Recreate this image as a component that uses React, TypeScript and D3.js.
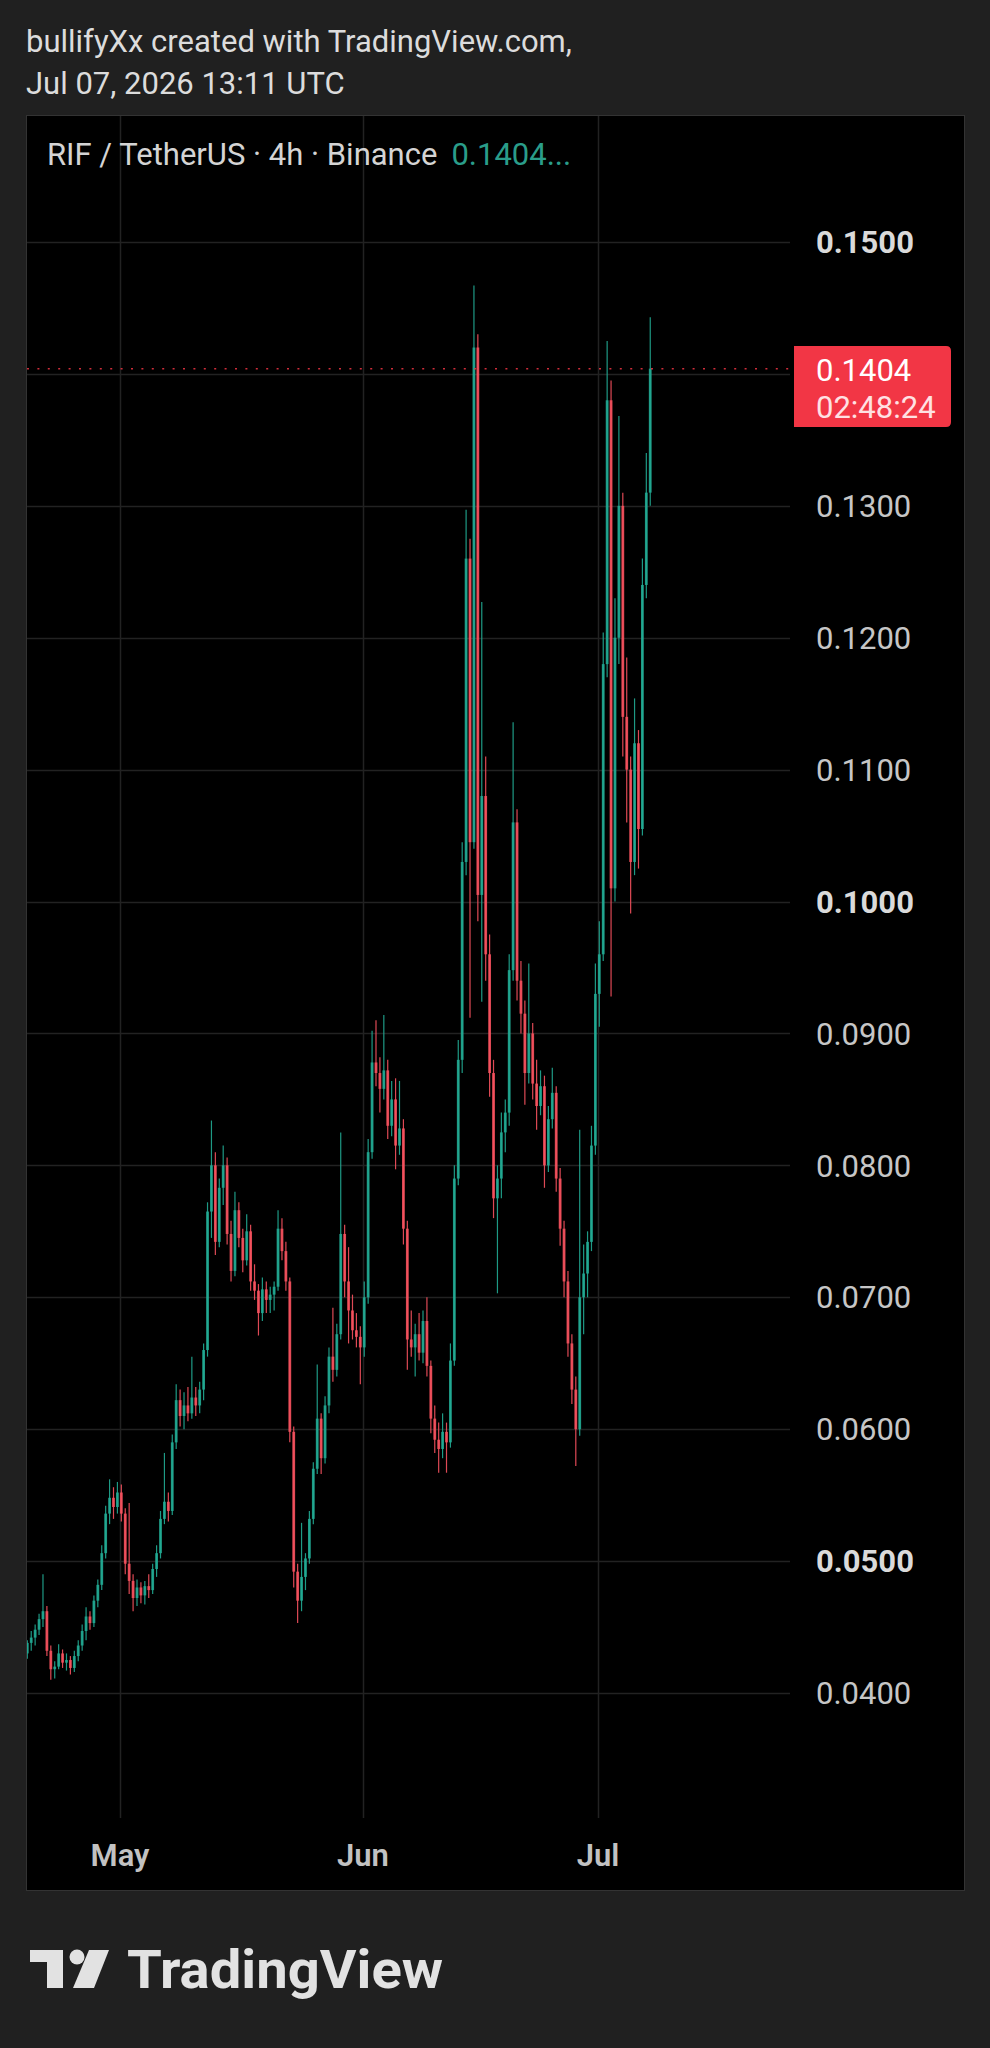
import React from "react";
import * as d3 from "d3";

// ---- data (12h OHLC candles) ----
const startDate = Date.UTC(2026, 3, 19); // Apr 19 2026 00:00 UTC
const aprCandles: number[][] = [
  [0.0430, 0.0440, 0.0426, 0.0438], [0.0438, 0.0447, 0.0432, 0.0442],
  [0.0442, 0.0452, 0.0436, 0.0448], [0.0448, 0.0460, 0.0444, 0.0456],
  [0.0456, 0.0490, 0.0450, 0.0462], [0.0462, 0.0466, 0.0428, 0.0432],
  [0.0432, 0.0436, 0.0410, 0.0418], [0.0418, 0.0424, 0.0411, 0.0420],
  [0.0420, 0.0437, 0.0418, 0.0430], [0.0430, 0.0433, 0.0419, 0.0423],
  [0.0423, 0.0430, 0.0417, 0.0425], [0.0425, 0.0428, 0.0414, 0.0419],
  [0.0419, 0.0432, 0.0416, 0.0428], [0.0428, 0.0440, 0.0424, 0.0436],
  [0.0436, 0.0452, 0.0432, 0.0447], [0.0447, 0.0465, 0.0440, 0.0458],
  [0.0458, 0.0462, 0.0448, 0.0453], [0.0453, 0.0474, 0.0450, 0.0470],
  [0.0470, 0.0486, 0.0465, 0.0482], [0.0482, 0.0512, 0.0478, 0.0506],
  [0.0506, 0.0542, 0.0502, 0.0536], [0.0536, 0.0562, 0.0528, 0.0548],
  [0.0548, 0.0556, 0.0532, 0.0541], [0.0541, 0.0560, 0.0536, 0.0552],
];
const mayCandles: number[][] = [
  [0.0552, 0.0558, 0.0530, 0.0536], [0.0536, 0.0540, 0.0490, 0.0498],
  [0.0498, 0.0544, 0.0475, 0.0485], [0.0485, 0.0490, 0.0462, 0.0472],
  [0.0472, 0.0486, 0.0466, 0.0480], [0.0480, 0.0484, 0.0468, 0.0474],
  [0.0474, 0.0485, 0.0467, 0.0481], [0.0481, 0.0490, 0.0472, 0.0478],
  [0.0478, 0.0498, 0.0475, 0.0494], [0.0494, 0.0512, 0.0488, 0.0506],
  [0.0506, 0.0538, 0.0502, 0.0532], [0.0532, 0.0582, 0.0528, 0.0545],
  [0.0545, 0.0552, 0.0530, 0.0538], [0.0538, 0.0596, 0.0535, 0.0590],
  [0.0590, 0.0634, 0.0585, 0.0622], [0.0622, 0.0630, 0.0602, 0.0610],
  [0.0610, 0.0628, 0.0600, 0.0618], [0.0618, 0.0632, 0.0606, 0.0612],
  [0.0612, 0.0655, 0.0608, 0.0624], [0.0624, 0.0632, 0.0610, 0.0618],
  [0.0618, 0.0636, 0.0612, 0.0630], [0.0630, 0.0665, 0.0622, 0.0660],
  [0.0660, 0.0772, 0.0655, 0.0765], [0.0765, 0.0834, 0.0745, 0.0800],
  [0.0800, 0.0810, 0.0732, 0.0742], [0.0742, 0.0790, 0.0738, 0.0783],
  [0.0783, 0.0815, 0.0770, 0.0800], [0.0800, 0.0806, 0.0740, 0.0748],
  [0.0748, 0.0758, 0.0712, 0.0720], [0.0720, 0.0780, 0.0716, 0.0766],
  [0.0766, 0.0772, 0.0738, 0.0745], [0.0745, 0.0752, 0.0719, 0.0728],
  [0.0728, 0.0763, 0.0724, 0.0750], [0.0750, 0.0755, 0.0705, 0.0712],
  [0.0712, 0.0725, 0.0698, 0.0705], [0.0705, 0.0710, 0.0671, 0.0688],
  [0.0688, 0.0715, 0.0682, 0.0706], [0.0706, 0.0712, 0.0688, 0.0698],
  [0.0698, 0.0708, 0.0688, 0.0702], [0.0702, 0.0712, 0.0690, 0.0708],
  [0.0708, 0.0766, 0.0705, 0.0752], [0.0752, 0.0760, 0.0728, 0.0735],
  [0.0735, 0.0742, 0.0705, 0.0712], [0.0712, 0.0715, 0.0590, 0.0598],
  [0.0598, 0.0602, 0.0480, 0.0492], [0.0492, 0.0498, 0.0453, 0.0470],
  [0.0470, 0.0529, 0.0462, 0.0488], [0.0488, 0.0506, 0.0478, 0.0502],
  [0.0502, 0.0538, 0.0498, 0.0532], [0.0532, 0.0575, 0.0528, 0.0570],
  [0.0570, 0.0649, 0.0566, 0.0608], [0.0608, 0.0612, 0.0566, 0.0578],
  [0.0578, 0.0625, 0.0574, 0.0618], [0.0618, 0.0662, 0.0612, 0.0655],
  [0.0655, 0.0692, 0.0636, 0.0645], [0.0645, 0.0680, 0.0640, 0.0672],
  [0.0672, 0.0825, 0.0668, 0.0748], [0.0748, 0.0755, 0.0700, 0.0712],
  [0.0712, 0.0738, 0.0665, 0.0690], [0.0690, 0.0702, 0.0668, 0.0675],
  [0.0675, 0.0688, 0.0662, 0.0670], [0.0670, 0.0678, 0.0634, 0.0662],
];
const junCandles: number[][] = [
  [0.0662, 0.0712, 0.0655, 0.0700], [0.0700, 0.0820, 0.0695, 0.0810],
  [0.0810, 0.0902, 0.0805, 0.0878], [0.0878, 0.0910, 0.0860, 0.0870],
  [0.0870, 0.0882, 0.0840, 0.0858], [0.0858, 0.0914, 0.0850, 0.0872],
  [0.0872, 0.0880, 0.0820, 0.0830], [0.0830, 0.0864, 0.0822, 0.0850],
  [0.0850, 0.0866, 0.0797, 0.0815], [0.0815, 0.0864, 0.0808, 0.0828],
  [0.0828, 0.0835, 0.0740, 0.0752], [0.0752, 0.0758, 0.0645, 0.0668],
  [0.0668, 0.0690, 0.0655, 0.0662], [0.0662, 0.0680, 0.0640, 0.0672],
  [0.0672, 0.0688, 0.0652, 0.0658], [0.0658, 0.0690, 0.0650, 0.0682],
  [0.0682, 0.0700, 0.0640, 0.0648], [0.0648, 0.0652, 0.0597, 0.0608],
  [0.0608, 0.0618, 0.0582, 0.0592], [0.0592, 0.0605, 0.0567, 0.0585],
  [0.0585, 0.0612, 0.0578, 0.0598], [0.0598, 0.0605, 0.0567, 0.0590],
  [0.0590, 0.0665, 0.0586, 0.0652], [0.0652, 0.0800, 0.0648, 0.0790],
  [0.0790, 0.0895, 0.0785, 0.0880], [0.0880, 0.1045, 0.0870, 0.1030],
  [0.1030, 0.1297, 0.1020, 0.1260], [0.1260, 0.1275, 0.0912, 0.1045],
  [0.1045, 0.1467, 0.1040, 0.1420], [0.1420, 0.1430, 0.0985, 0.1005],
  [0.1005, 0.1227, 0.0924, 0.1080], [0.1080, 0.1110, 0.0940, 0.0960],
  [0.0960, 0.0975, 0.0852, 0.0870], [0.0870, 0.0880, 0.0760, 0.0775],
  [0.0775, 0.0800, 0.0703, 0.0790], [0.0790, 0.0840, 0.0775, 0.0825],
  [0.0825, 0.0850, 0.0810, 0.0840], [0.0840, 0.0960, 0.0830, 0.0948],
  [0.0948, 0.1136, 0.0940, 0.1060], [0.1060, 0.1070, 0.0925, 0.0940],
  [0.0940, 0.0955, 0.0900, 0.0915], [0.0915, 0.0925, 0.0846, 0.0870],
  [0.0870, 0.0953, 0.0862, 0.0900], [0.0900, 0.0908, 0.0850, 0.0862],
  [0.0862, 0.0880, 0.0827, 0.0845], [0.0845, 0.0872, 0.0838, 0.0860],
  [0.0860, 0.0868, 0.0783, 0.0800], [0.0800, 0.0845, 0.0795, 0.0835],
  [0.0835, 0.0874, 0.0828, 0.0855], [0.0855, 0.0860, 0.0780, 0.0790],
  [0.0790, 0.0798, 0.0739, 0.0752], [0.0752, 0.0758, 0.0700, 0.0712],
  [0.0712, 0.0720, 0.0655, 0.0665], [0.0665, 0.0672, 0.0619, 0.0630],
  [0.0630, 0.0640, 0.0572, 0.0600], [0.0600, 0.0827, 0.0595, 0.0700],
  [0.0700, 0.0740, 0.0672, 0.0718], [0.0718, 0.0750, 0.0700, 0.0742],
  [0.0742, 0.0830, 0.0735, 0.0815], [0.0815, 0.0953, 0.0808, 0.0930],
];
const julCandles: number[][] = [
  [0.0930, 0.0985, 0.0905, 0.0960], [0.0960, 0.1204, 0.0955, 0.1180],
  [0.1180, 0.1425, 0.1170, 0.1380], [0.1380, 0.1395, 0.0928, 0.1010],
  [0.1010, 0.1230, 0.1000, 0.1200], [0.1200, 0.1368, 0.1180, 0.1300],
  [0.1300, 0.1310, 0.1110, 0.1140], [0.1140, 0.1185, 0.1060, 0.1100],
  [0.1100, 0.1110, 0.0991, 0.1030], [0.1030, 0.1154, 0.1020, 0.1120],
  [0.1120, 0.1130, 0.1025, 0.1055], [0.1055, 0.1260, 0.1050, 0.1240],
  [0.1240, 0.1340, 0.1230, 0.1310], [0.1310, 0.1443, 0.1300, 0.1404],
];
const priceTicks = [0.04, 0.05, 0.06, 0.07, 0.08, 0.09, 0.1, 0.11, 0.12, 0.13, 0.14, 0.15];
const boldTicks = [0.05, 0.1, 0.15];
const monthTicks = [
  { label: "May", date: Date.UTC(2026, 4, 1) },
  { label: "Jun", date: Date.UTC(2026, 5, 1) },
  { label: "Jul", date: Date.UTC(2026, 6, 1) },
];
const lastPrice = 0.1404;
const countdown = "02:48:24";
const titleLine1 = "bullifyXx created with TradingView.com,";
const titleLine2 = "Jul 07, 2026 13:11 UTC";
const legendText = "RIF / TetherUS · 4h · Binance";
const legendValue = "0.1404...";

const HOUR = 3600 * 1000;
const FONT = "Roboto, 'Noto Sans', sans-serif";
const UP = "#22ab94";
const DOWN = "#f7525f";

export default function App() {
  const W = 990, H = 2048;
  const panel = { x0: 26, x1: 964, y0: 115, y1: 1890 };
  const plotRight = 790;
  const plotBottom = 1818;

  const x = d3.scaleUtc()
    .domain([new Date(startDate), new Date(Date.UTC(2026, 6, 1))])
    .range([26, 598]);
  const y = d3.scaleLinear().domain([0.04, 0.15]).range([1693, 242]);

  const all = [...aprCandles, ...mayCandles, ...junCandles, ...julCandles];
  const candles = all.map((c, i) => ({
    t: new Date(startDate + i * 12 * HOUR + 4 * HOUR),
    o: c[0], h: c[1], l: c[2], c: c[3],
  }));
  const bodyW = 2.8;

  const tagY0 = 346, tagY1 = 427, tagX0 = 794, tagX1 = 951;
  const ly = y(lastPrice);
  const FS = 31;

  return (
    <div style={{ position: "absolute", left: 0, top: 0 }}>
      <svg width={W} height={H} style={{ display: "block" }}>
        <rect x={0} y={0} width={W} height={H} fill="#202020" />
        <text x={26} y={52} fill="#dcdcdc" fontFamily={FONT} fontSize={FS}>{titleLine1}</text>
        <text x={26} y={94} fill="#dcdcdc" fontFamily={FONT} fontSize={FS}>{titleLine2}</text>

        <rect x={panel.x0 + 0.5} y={panel.y0 + 0.5} width={panel.x1 - panel.x0} height={panel.y1 - panel.y0}
          fill="#000" stroke="#333" strokeWidth={1} />
        <defs>
          <clipPath id="plotclip">
            <rect x={panel.x0 + 1} y={panel.y0 + 1} width={plotRight - panel.x0 - 1} height={plotBottom - panel.y0 - 1} />
          </clipPath>
        </defs>

        {/* grid */}
        {priceTicks.map((p) => (
          <line key={"h" + p} x1={panel.x0 + 1} x2={plotRight} y1={Math.round(y(p)) + 0.5} y2={Math.round(y(p)) + 0.5}
            stroke="#222" strokeWidth={1.5} />
        ))}
        {monthTicks.map((m) => (
          <line key={"v" + m.label} x1={Math.round(x(new Date(m.date))) + 0.5} x2={Math.round(x(new Date(m.date))) + 0.5}
            y1={panel.y0 + 1} y2={plotBottom} stroke="#222" strokeWidth={1.5} />
        ))}

        {/* candles */}
        <g clipPath="url(#plotclip)">
          {candles.map((c, i) => {
            const cx = x(c.t);
            const col = c.c >= c.o ? UP : DOWN;
            const top = y(Math.max(c.o, c.c));
            const bot = y(Math.min(c.o, c.c));
            return (
              <g key={i}>
                <line x1={cx} x2={cx} y1={y(c.h)} y2={y(c.l)} stroke={col} strokeWidth={1.2} opacity={0.9} />
                <rect x={cx - bodyW / 2} y={top} width={bodyW} height={Math.max(1, bot - top)} fill={col} opacity={0.88} />
              </g>
            );
          })}
        </g>

        {/* last price dotted line */}
        <line x1={panel.x0 + 1} x2={tagX0} y1={ly} y2={ly} stroke="#f23645" strokeWidth={1.5}
          strokeDasharray="2 8.4" opacity={0.85} />

        {/* price labels */}
        {priceTicks.filter((p) => p !== 0.14).map((p) => {
          const bold = boldTicks.includes(p);
          return (
            <text key={"t" + p} x={816} y={y(p)} dy="0.36em" fill={bold ? "#dadada" : "#c6c6c6"}
              fontFamily={FONT} fontSize={FS} fontWeight={bold ? 700 : 400}>{p.toFixed(4)}</text>
          );
        })}

        {/* price tag */}
        <path d={`M${tagX0},${tagY0} H${tagX1 - 5} Q${tagX1},${tagY0} ${tagX1},${tagY0 + 5} V${tagY1 - 5} Q${tagX1},${tagY1} ${tagX1 - 5},${tagY1} H${tagX0} Z`}
          fill="#f23645" />
        <text x={816} y={381} fill="#ffffff" fontFamily={FONT} fontSize={FS}>{lastPrice.toFixed(4)}</text>
        <text x={816} y={418} fill="#ffe1e3" fontFamily={FONT} fontSize={FS}>{countdown}</text>

        {/* month labels */}
        {monthTicks.map((m) => (
          <text key={"m" + m.label} x={x(new Date(m.date))} y={1866} textAnchor="middle" fill="#c2c2c2"
            fontFamily={FONT} fontSize={FS} fontWeight={600}>{m.label}</text>
        ))}

        {/* legend */}
        <text x={47} y={165} fontFamily={FONT} fontSize={FS} fill="#d4d4d4">
          {legendText}
          <tspan dx={14} fill="#2a9d8a">{legendValue}</tspan>
        </text>

        {/* TradingView logo */}
        <g fill="#e2e2e2">
          <path d="M30,1950 H63 V1988 H47 V1962 H30 Z" />
          <circle cx={77} cy={1957} r={7.5} />
          <path d="M89,1950 H109 L94,1988 H73 Z" />
          <text x={127} y={1988} fontFamily={FONT} fontSize={53} fontWeight={700} textLength={316}
            lengthAdjust="spacingAndGlyphs">TradingView</text>
        </g>
      </svg>
    </div>
  );
}
